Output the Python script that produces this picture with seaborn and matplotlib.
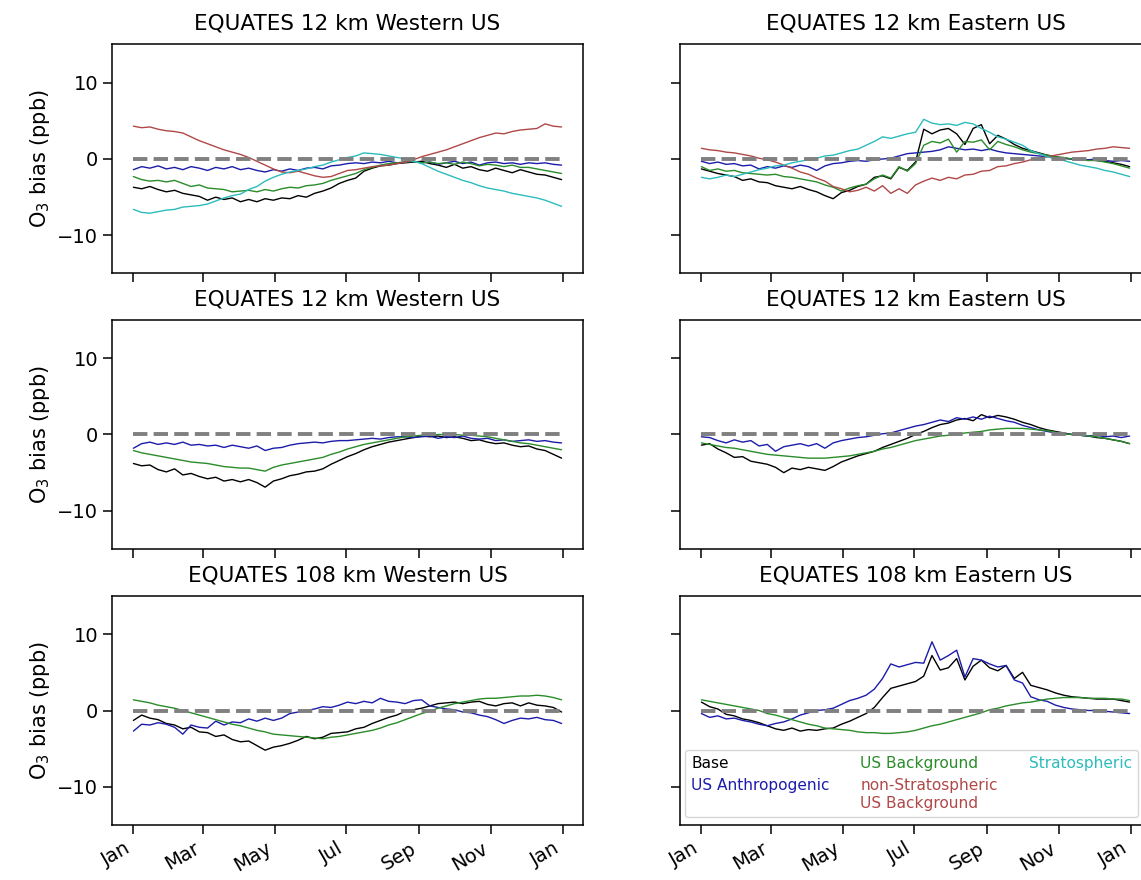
import numpy as np
import pandas as pd
import matplotlib
matplotlib.use("Agg")
import matplotlib.pyplot as plt
import matplotlib.dates as mdates
import seaborn as sns
from matplotlib.lines import Line2D

# weekly samples (Jan 1 .. Dec 31)
dates = pd.date_range("2019-01-01", periods=53, freq="7D")

# EQUATES 12 km Western US (top)
w12a_base = [-3.7, -3.9, -3.6, -4.0, -4.3, -4.1, -4.5, -4.7, -4.9, -5.4, -5.0, -5.3, -5.1,
             -5.6, -5.3, -5.6, -5.2, -5.4, -5.1, -5.2, -4.8, -5.0, -4.5, -4.2, -3.8, -3.2,
             -2.8, -2.5, -1.6, -1.2, -0.9, -0.8, -0.6, -0.5, -0.4, -0.3, -0.6, -0.8, -1.1,
             -0.7, -1.2, -1.0, -1.4, -1.6, -1.2, -1.5, -1.8, -1.4, -1.7, -2.0, -2.1, -2.4,
             -2.7]
w12a_anth = [-1.4, -1.0, -1.2, -0.9, -1.3, -1.1, -1.4, -1.0, -1.2, -1.5, -1.1, -1.3, -1.0,
             -1.4, -1.2, -1.5, -1.7, -1.4, -1.6, -1.3, -1.5, -1.2, -1.1, -1.3, -0.9, -0.8,
             -0.6, -0.5, -0.6, -0.4, -0.5, -0.3, -0.5, -0.4, -0.3, -0.5, -0.4, -0.7, -0.5,
             -0.3, -0.6, -0.4, -0.8, -0.5, -0.4, -0.6, -0.5, -0.7, -0.5, -0.6, -0.5, -0.7,
             -0.8]
w12a_usb = [-2.3, -2.7, -2.9, -2.8, -3.0, -2.8, -3.2, -3.6, -3.4, -3.8, -3.9, -4.0, -4.3,
            -4.2, -4.1, -4.3, -4.0, -4.2, -3.9, -3.7, -3.8, -3.5, -3.4, -3.2, -2.8, -2.5,
            -2.2, -1.9, -1.4, -1.1, -0.8, -0.6, -0.5, -0.4, -0.3, -0.5, -0.4, -0.6, -0.5,
            -0.7, -0.4, -0.6, -0.9, -0.7, -0.8, -1.0, -0.8, -1.1, -1.1, -1.3, -1.5, -1.7,
            -1.9]
w12a_nsusb = [4.3, 4.1, 4.2, 3.9, 3.7, 3.6, 3.4, 2.9, 2.4, 2.0, 1.6, 1.2, 0.9,
              0.6, 0.2, -0.3, -0.8, -1.3, -1.7, -1.8, -1.6, -1.9, -2.2, -2.4, -2.3, -1.9,
              -1.5, -1.4, -1.2, -1.0, -0.9, -0.8, -0.6, -0.4, -0.1, 0.3, 0.6, 0.9, 1.2,
              1.6, 2.0, 2.4, 2.8, 3.1, 3.4, 3.3, 3.6, 3.8, 3.9, 4.0, 4.6, 4.3,
              4.2]
w12a_strat = [-6.6, -7.0, -7.1, -6.9, -6.7, -6.6, -6.3, -6.2, -6.1, -5.9, -5.5, -5.1, -4.8,
              -4.6, -4.0, -3.6, -2.9, -2.4, -2.0, -1.7, -1.5, -1.3, -1.0, -0.8, -0.4, -0.1,
              0.2, 0.4, 0.8, 0.7, 0.6, 0.4, 0.2, 0.0, -0.3, -0.6, -1.1, -1.6, -2.0,
              -2.4, -2.8, -3.1, -3.5, -3.8, -4.0, -4.2, -4.5, -4.7, -4.9, -5.1, -5.4, -5.8,
              -6.2]

# EQUATES 12 km Eastern US (top)
e12a_base = [-1.3, -1.6, -1.9, -2.1, -2.3, -2.8, -2.6, -3.0, -3.1, -3.5, -3.7, -3.9, -3.6,
             -4.0, -4.3, -4.8, -5.2, -4.4, -4.1, -3.6, -3.3, -2.4, -2.2, -2.6, -1.1, -1.5,
             -0.4, 3.9, 3.3, 3.8, 4.0, 3.3, 1.9, 4.0, 4.5, 2.0, 3.1, 2.6, 1.9,
             1.4, 1.1, 0.8, 0.5, 0.3, 0.1, 0.0, -0.1, -0.1, -0.2, -0.3, -0.5, -0.7,
             -1.0]
e12a_anth = [-0.3, -0.6, -0.4, -0.7, -0.6, -0.9, -0.8, -1.3, -1.0, -1.2, -0.9, -1.1, -0.8,
             -1.0, -1.5, -0.9, -0.6, -0.5, -0.3, -0.2, -0.3, -0.1, 0.0, 0.1, 0.4, 0.7,
             0.8, 0.9, 1.0, 1.2, 1.6, 1.4, 1.2, 1.3, 1.1, 1.3, 1.0, 0.8, 0.7,
             0.6, 0.5, 0.4, 0.3, 0.2, 0.1, 0.0, -0.1, -0.1, 0.0, -0.2, -0.3, -0.2,
             -0.3]
e12a_usb = [-1.0, -1.5, -1.3, -1.6, -1.5, -1.8, -1.9, -2.0, -2.1, -2.0, -2.3, -2.4, -2.6,
            -2.8, -3.0, -3.4, -3.7, -4.2, -3.8, -3.5, -3.3, -2.6, -2.1, -2.5, -1.0, -1.6,
            -0.6, 1.8, 2.3, 2.1, 2.6, 0.9, 2.3, 2.2, 2.5, 1.2, 2.3, 1.9, 1.6,
            1.2, 0.9, 0.7, 0.5, 0.3, 0.2, 0.0, -0.1, -0.2, -0.2, -0.4, -0.6, -0.9,
            -1.2]
e12a_nsusb = [1.4, 1.2, 1.1, 0.9, 0.8, 0.6, 0.4, 0.1, -0.1, -0.4, -0.8, -1.2, -1.7,
              -2.0, -2.5, -2.9, -3.6, -3.9, -4.3, -4.1, -3.7, -4.2, -3.5, -4.5, -3.9, -4.5,
              -3.4, -2.9, -2.5, -2.8, -2.4, -2.6, -2.1, -2.0, -1.6, -1.5, -1.0, -0.9, -0.6,
              -0.4, -0.1, 0.1, 0.3, 0.5, 0.7, 0.9, 1.0, 1.1, 1.3, 1.4, 1.6, 1.5,
              1.4]
e12a_strat = [-2.4, -2.6, -2.4, -2.1, -2.3, -2.0, -1.7, -1.4, -1.2, -0.9, -0.8, -0.5, -0.3,
              -0.1, 0.1, 0.4, 0.5, 0.8, 1.1, 1.3, 1.8, 2.3, 2.9, 2.7, 3.0, 3.3,
              3.5, 5.2, 4.7, 4.5, 4.6, 4.4, 4.8, 4.6, 4.0, 3.5, 2.9, 2.6, 2.2,
              1.8, 1.1, 0.7, 0.3, 0.0, -0.2, -0.5, -0.8, -1.0, -1.2, -1.5, -1.7, -2.0,
              -2.3]

# EQUATES 12 km Western US (middle)
w12b_base = [-3.8, -4.1, -4.0, -4.6, -4.9, -4.5, -5.3, -5.1, -5.5, -5.8, -5.6, -6.1, -5.9,
             -6.2, -5.9, -6.3, -6.9, -6.1, -5.8, -5.4, -5.2, -4.9, -4.8, -4.5, -3.9, -3.4,
             -2.9, -2.5, -2.0, -1.6, -1.3, -1.0, -0.8, -0.6, -0.4, -0.2, -0.3, -0.2, -0.4,
             -0.3, -0.5, -0.8, -0.7, -1.0, -1.2, -1.1, -1.4, -1.6, -1.5, -1.9, -2.1, -2.6,
             -3.1]
w12b_anth = [-1.8, -1.2, -1.0, -1.3, -1.1, -1.3, -1.0, -1.4, -1.3, -1.5, -1.4, -1.7, -1.4,
             -1.6, -1.8, -1.5, -2.1, -1.8, -1.7, -1.4, -1.2, -1.1, -1.0, -1.1, -0.9, -0.8,
             -0.8, -0.7, -0.6, -0.5, -0.6, -0.4, -0.3, -0.3, -0.4, -0.3, -0.2, -0.5, -0.3,
             -0.4, -0.2, -0.5, -0.6, -0.5, -0.8, -0.7, -0.9, -0.8, -0.7, -0.9, -0.8, -1.0,
             -1.1]
w12b_usb = [-2.1, -2.4, -2.6, -2.8, -3.0, -3.2, -3.4, -3.6, -3.7, -3.8, -4.0, -4.2, -4.3,
            -4.4, -4.4, -4.6, -4.8, -4.3, -4.0, -3.8, -3.6, -3.4, -3.2, -3.0, -2.6, -2.3,
            -1.9, -1.6, -1.3, -1.1, -0.9, -0.7, -0.5, -0.3, -0.2, -0.1, -0.1, 0.0, 0.0,
            0.0, -0.1, -0.1, -0.2, -0.3, -0.5, -0.7, -0.9, -1.1, -1.2, -1.4, -1.6, -1.8,
            -2.0]

# EQUATES 12 km Eastern US (middle)
e12b_base = [-1.4, -1.2, -1.9, -2.4, -3.0, -2.9, -3.5, -3.7, -3.9, -4.3, -5.0, -4.4, -4.6,
             -4.3, -4.5, -4.7, -4.2, -3.6, -3.2, -2.8, -2.5, -2.2, -1.7, -1.3, -0.9, -0.5,
             0.0, 0.4, 0.9, 1.3, 1.5, 1.9, 2.1, 1.8, 2.6, 2.2, 2.5, 2.3, 2.0,
             1.6, 1.3, 0.9, 0.6, 0.4, 0.2, 0.0, -0.1, -0.2, -0.4, -0.5, -0.7, -0.9,
             -1.2]
e12b_anth = [-0.3, -0.4, -0.8, -1.1, -0.7, -1.0, -0.8, -1.5, -1.3, -2.2, -1.6, -1.4, -1.2,
             -1.5, -1.2, -1.8, -1.1, -0.8, -0.6, -0.4, -0.3, -0.1, 0.1, 0.2, 0.5, 0.8,
             1.1, 1.3, 1.6, 1.9, 1.7, 2.2, 2.0, 2.3, 2.0, 2.4, 2.1, 1.8, 1.6,
             1.2, 0.9, 0.6, 0.4, 0.2, 0.1, 0.0, -0.1, -0.2, -0.1, -0.3, -0.2, -0.4,
             -0.2]
e12b_usb = [-1.1, -1.3, -1.5, -1.7, -1.8, -2.0, -2.2, -2.4, -2.6, -2.7, -2.8, -2.9, -3.0,
            -3.1, -3.1, -3.1, -3.0, -2.9, -2.8, -2.6, -2.4, -2.2, -1.9, -1.7, -1.4, -1.1,
            -0.8, -0.6, -0.4, -0.2, -0.1, 0.0, 0.2, 0.3, 0.4, 0.6, 0.7, 0.8, 0.8,
            0.8, 0.7, 0.6, 0.5, 0.3, 0.1, 0.0, -0.1, -0.2, -0.3, -0.5, -0.7, -0.9,
            -1.2]

# EQUATES 108 km Western US
w108_base = [-1.3, -0.6, -1.0, -1.2, -1.7, -1.9, -2.4, -2.2, -2.8, -2.9, -3.4, -3.2, -3.8,
             -4.1, -4.0, -4.6, -5.2, -4.8, -4.6, -4.3, -3.9, -3.4, -3.7, -3.5, -3.0, -2.9,
             -2.8, -2.4, -2.2, -1.7, -1.3, -0.9, -0.6, -0.1, 0.1, 0.3, 0.6, 0.9, 1.0,
             1.1, 0.9, 1.1, 1.2, 0.8, 0.6, 0.9, 1.0, 0.6, 1.0, 0.7, 0.6, 0.4,
             -0.2]
w108_anth = [-2.7, -1.8, -1.9, -1.6, -1.8, -2.2, -3.1, -1.9, -2.2, -2.3, -1.4, -1.9, -1.5,
             -1.6, -1.1, -1.4, -1.0, -1.3, -1.0, -0.4, -0.2, 0.0, 0.2, 0.5, 0.4, 0.7,
             1.1, 0.9, 1.2, 1.0, 1.6, 1.2, 1.1, 0.9, 1.3, 1.4, 0.6, 0.4, 0.2,
             0.1, -0.2, -0.3, -0.6, -0.8, -1.2, -1.7, -1.3, -1.0, -1.1, -0.9, -1.2, -1.3,
             -1.7]
w108_usb = [1.4, 1.2, 1.0, 0.7, 0.5, 0.3, 0.0, -0.3, -0.6, -0.9, -1.2, -1.5, -1.8,
            -2.0, -2.3, -2.6, -2.8, -3.1, -3.2, -3.3, -3.4, -3.5, -3.6, -3.7, -3.5, -3.4,
            -3.2, -3.0, -2.8, -2.6, -2.3, -1.9, -1.6, -1.2, -0.8, -0.4, -0.1, 0.3, 0.6,
            0.9, 1.1, 1.3, 1.5, 1.6, 1.6, 1.7, 1.8, 1.9, 1.9, 2.0, 1.9, 1.7,
            1.4]

# EQUATES 108 km Eastern US
e108_base = [1.1, 0.5, 0.2, -0.5, -0.7, -1.1, -1.3, -1.6, -2.0, -2.4, -2.6, -2.3, -2.7,
             -2.5, -2.6, -2.4, -2.3, -1.8, -1.4, -0.9, -0.4, 0.4, 1.7, 2.9, 3.2, 3.5,
             3.8, 4.5, 7.2, 5.3, 5.6, 6.8, 4.0, 5.8, 6.6, 5.6, 5.2, 5.9, 4.2,
             5.0, 3.3, 3.0, 2.7, 2.3, 2.0, 1.8, 1.7, 1.6, 1.5, 1.5, 1.5, 1.3,
             1.1]
e108_anth = [-0.4, -0.9, -0.7, -1.1, -1.0, -1.3, -1.5, -1.8, -2.0, -1.7, -1.5, -1.1, -0.6,
             -0.3, 0.0, 0.1, 0.3, 0.8, 1.3, 1.6, 2.0, 2.8, 4.2, 6.1, 5.7, 6.0,
             6.3, 6.2, 9.0, 6.6, 7.2, 7.9, 4.4, 6.8, 6.6, 6.1, 5.7, 5.9, 4.0,
             3.6, 1.8, 1.4, 1.2, 0.7, 0.4, 0.2, 0.1, 0.0, 0.0, -0.1, -0.2, -0.3,
             -0.4]
e108_usb = [1.4, 1.2, 1.0, 0.8, 0.6, 0.4, 0.2, 0.0, -0.4, -0.6, -0.9, -1.2, -1.5,
            -1.8, -2.0, -2.3, -2.4, -2.5, -2.6, -2.8, -2.9, -2.9, -3.0, -3.0, -2.9, -2.8,
            -2.6, -2.3, -2.0, -1.8, -1.5, -1.2, -0.9, -0.6, -0.3, 0.1, 0.3, 0.6, 0.8,
            1.0, 1.1, 1.3, 1.5, 1.6, 1.7, 1.7, 1.7, 1.6, 1.6, 1.6, 1.5, 1.5,
            1.3]

labels = ["Base", "US Anthropogenic", "US Background",
          "non-Stratospheric\nUS Background", "Stratospheric"]
colors = {"Base": "black", "US Anthropogenic": "#1c1caa", "US Background": "#2a8c2a",
          "non-Stratospheric\nUS Background": "#b04848", "Stratospheric": "#2cbcbc"}

panels = [
    ("EQUATES 12 km Western US", [w12a_base, w12a_anth, w12a_usb, w12a_nsusb, w12a_strat]),
    ("EQUATES 12 km Eastern US", [e12a_base, e12a_anth, e12a_usb, e12a_nsusb, e12a_strat]),
    ("EQUATES 12 km Western US", [w12b_base, w12b_anth, w12b_usb]),
    ("EQUATES 12 km Eastern US", [e12b_base, e12b_anth, e12b_usb]),
    ("EQUATES 108 km Western US", [w108_base, w108_anth, w108_usb]),
    ("EQUATES 108 km Eastern US", [e108_base, e108_anth, e108_usb]),
]

sns.set_style("ticks")
plt.rcParams.update({
    "font.family": ["DejaVu Sans"],
    "text.color": "black",
    "axes.labelcolor": "black",
    "axes.edgecolor": "black",
    "axes.linewidth": 1.1,
    "xtick.color": "black",
    "ytick.color": "black",
    "xtick.major.size": 6.5,
    "ytick.major.size": 6.5,
    "xtick.major.width": 1.1,
    "ytick.major.width": 1.1,
    "xtick.labelsize": 14,
    "ytick.labelsize": 14,
})

W, H = 1141, 880
fig = plt.figure(figsize=(W / 100, H / 100), dpi=100)
col_left = [112, 680]
row_top = [44.5, 320, 596]
ax_w, ax_h = 471, 229

axes = []
for i, (title, series) in enumerate(panels):
    r, c = divmod(i, 2)
    ax = fig.add_axes([col_left[c] / W, 1 - (row_top[r] + ax_h) / H, ax_w / W, ax_h / H])
    axes.append(ax)
    names = labels[:len(series)]
    df = pd.DataFrame({
        "date": np.tile(dates, len(series)),
        "bias": np.concatenate(series),
        "source": np.repeat(names, len(dates)),
    })
    sns.lineplot(data=df, x="date", y="bias", hue="source", hue_order=names,
                 palette=colors, linewidth=1.0, estimator=None, legend=False, ax=ax)
    ax.plot(dates, np.zeros(len(dates)), color="gray", lw=2.8, ls="--", zorder=5)

    ax.set_ylim(-15, 15)
    ax.set_yticks([-10, 0, 10])
    ax.xaxis.set_major_locator(mdates.MonthLocator(bymonth=[1, 3, 5, 7, 9, 11]))
    ax.xaxis.set_major_formatter(mdates.DateFormatter("%b"))
    ax.set_title(title, fontsize=15.5, pad=10.5, color="black")
    ax.set_xlabel("")
    if c == 0:
        ax.set_ylabel("O$_3$ bias (ppb)", fontsize=15)
    else:
        ax.set_ylabel("")
        ax.tick_params(labelleft=False)
    if r < 2:
        ax.tick_params(labelbottom=False)
    else:
        plt.setp(ax.get_xticklabels(), rotation=30, ha="right")

handles = [Line2D([], [], color=colors[n], lw=0) for n in labels]
leg = axes[5].legend(handles, labels, ncol=3, loc="lower left",
                     bbox_to_anchor=(0.0106, 0.035), borderaxespad=0,
                     fontsize=11.1, handlelength=0, handletextpad=0,
                     columnspacing=2.0, frameon=True)
for txt in leg.get_texts():
    txt.set_color(colors[txt.get_text()])

fig.savefig("out.png", dpi=100)
